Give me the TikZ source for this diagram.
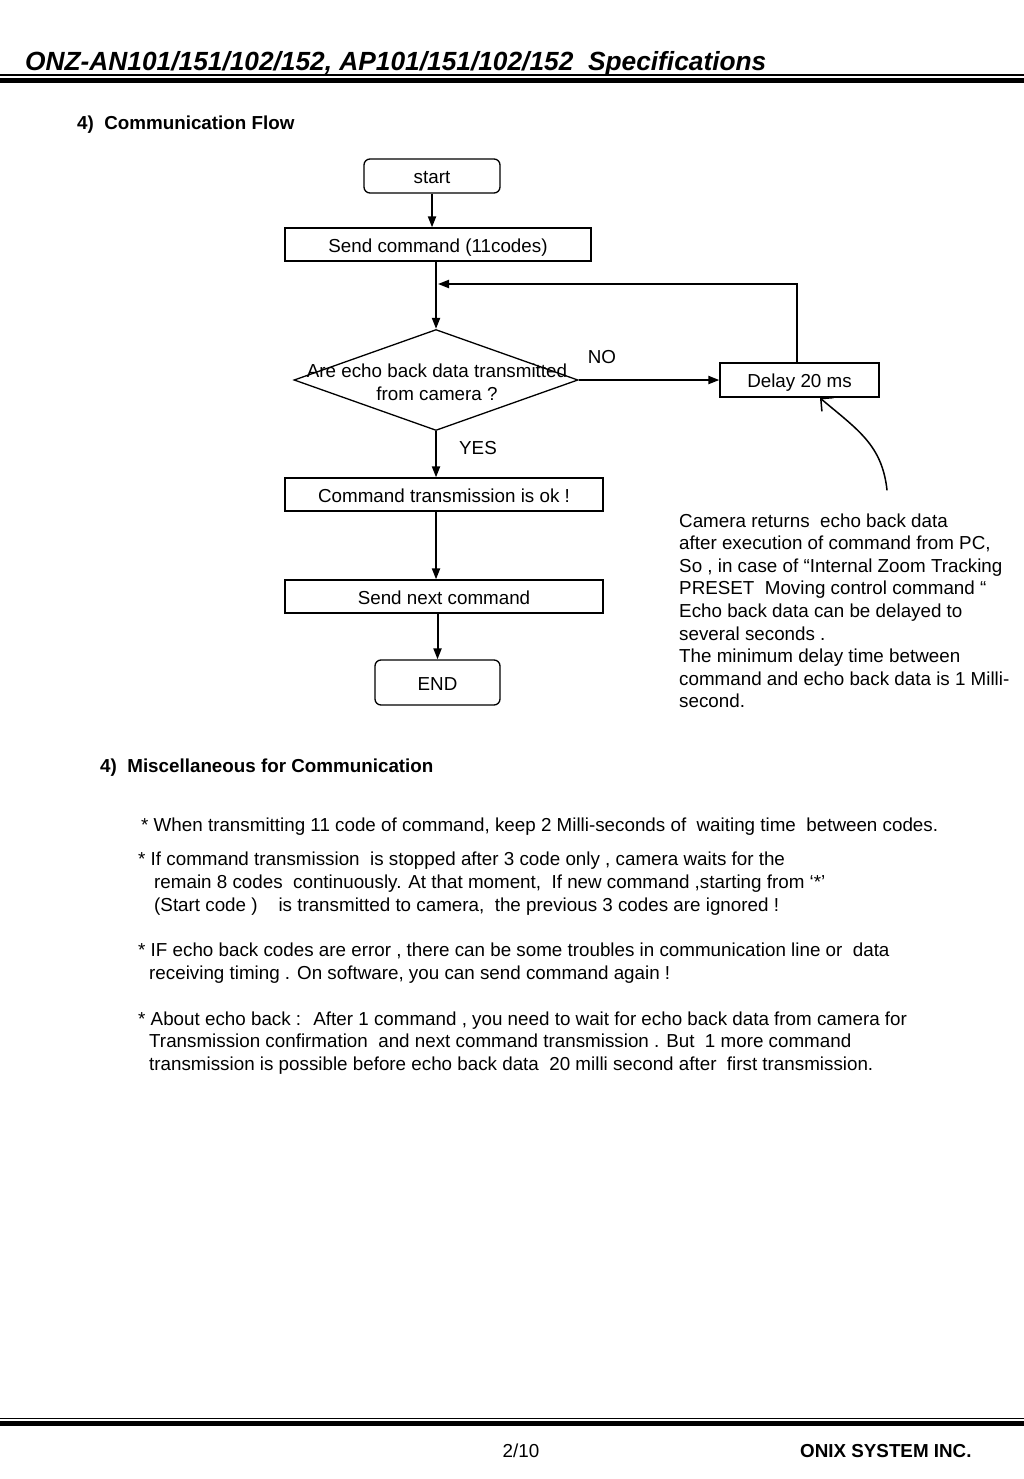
\documentclass[tikz,border=0pt]{standalone}
\usepackage{fontspec}
\setmainfont{Liberation Sans}
\usetikzlibrary{shapes.geometric,arrows.meta}

\tikzset{
  box/.style={draw, line width=1.3pt, inner sep=0pt, text height=15pt, text depth=0pt, font=\fontsize{18.8}{22.6}\selectfont},
  flow/.style={line width=2pt, -{Triangle[length=11pt,width=8pt]}},
  txt/.style={inner sep=0pt, anchor=base west, font=\fontsize{18.8}{22.6}\selectfont},
  bold/.style={txt, font=\fontsize{18.8}{22.6}\selectfont\bfseries},
}

\begin{document}
\begin{tikzpicture}[x=1pt,y=-1pt]

\useasboundingbox (0,0) rectangle (1024,1479);


% header
\node[txt, font=\fontsize{26.3}{30}\selectfont\bfseries\itshape] (title) at (25,70.5) {ONZ-AN101/151/102/152, AP101/151/102/152~ Specifications};
\draw[line width=1.5pt] (0,75) -- (1024,75);
\draw[line width=4.2pt] (0,80.6) -- (1024,80.6);

\node[bold] (flowhead) at (77,130) {4)~ Communication Flow};


% flow chart
\node[box, rounded corners=6pt, minimum width=136pt, minimum height=34pt] (start) at (432,176) {start};
\node[box, minimum width=306pt, minimum height=33pt] (send) at (438,244.5) {Send command (11codes)};

\node[draw, line width=1.3pt, diamond, minimum width=284pt, minimum height=101pt, inner sep=0pt] (ask) at (436,380) {};
\node[align=center, inner sep=0pt, font=\fontsize{18.8}{22.6}\selectfont] (asktext) at (437,382) {Are echo back data transmitted\\from camera ?};

\node[box, minimum width=159pt, minimum height=34pt] (delay) at (799.5,380) {Delay 20 ms};

\node[box, minimum width=318pt, minimum height=33pt] (cmdok) at (444,494.5) {Command transmission is ok !};
\node[box, minimum width=318pt, minimum height=33pt] (sendnext) at (444,596.5) {Send next command};
\node[box, rounded corners=6pt, minimum width=125pt, minimum height=45pt] (finish) at (437.5,682.5) {END};

\node[txt, anchor=center] (no) at (602,357) {NO};
\node[txt, anchor=center] (yes) at (478,448) {YES};


\coordinate (loopjoin) at (436,284);

\draw[flow] (start.south) -- (start.south |- send.north);
\draw[flow] (send.south -| ask.north) -- (ask.north);
\draw[flow] (ask.east) -- (ask.east -| delay.west);
\draw[flow] ([xshift=-3pt]delay.north) |- ([xshift=2pt]loopjoin);
\draw[flow] (ask.south) -- (ask.south |- cmdok.north);
\draw[flow] (cmdok.south -| ask.south) -- (ask.south |- sendnext.north);
\draw[flow] (sendnext.south -| finish.north) -- (finish.north);


% note on the delay
\coordinate (notefoot) at (887,490);
\coordinate (notetip) at (820,398);
\draw[line width=1.5pt, line cap=round, -{Straight Barb[length=9pt,width=18pt,line width=1.5pt]}] (notefoot) .. controls (882,445) and (858,430) .. (notetip);

\foreach \line [count=\i] in {Camera returns~ echo back data,
	{after execution of command from PC,},
	{So , in case of “Internal Zoom Tracking},
	PRESET~ Moving control command “,
	Echo back data can be delayed to,
	several seconds .,
	The minimum delay time between,
	command and echo back data is 1 Milli-,
	second.}
{
	\node[txt] (note\i) at (679, 527 + \i*22.6 - 22.6) {\line};
}


% miscellaneous
\node[bold] (mischead) at (100,772.5) {4)~ Miscellaneous for Communication};

\node[txt] (misc1) at (141,831) {* When transmitting 11 code of command, keep 2 Milli-seconds of~ waiting time~ between codes.};

\node[txt] (misc2) at (138,865) {* If command transmission~ is stopped after 3 code only , camera waits for the};
\node[txt] (misc3) at (154,888) {remain 8 codes~ continuously. At that moment,~ If new command ,starting from ‘*’};
\node[txt] (misc4) at (154,911) {(Start code )~ ~ is transmitted to camera,~ the previous 3 codes are ignored !};

\node[txt] (misc5) at (138,956) {* IF echo back codes are error , there can be some troubles in communication line or~ data};
\node[txt] (misc6) at (149,979) {receiving timing . On software, you can send command again !};

\node[txt] (misc7) at (138,1025) {* About echo back :~ After 1 command , you need to wait for echo back data from camera for};
\node[txt] (misc8) at (149,1047) {Transmission confirmation~ and next command transmission . But~ 1 more command};
\node[txt] (misc9) at (149,1070) {transmission is possible before echo back data~ 20 milli second after~ first transmission.};


% footer
\draw[line width=1.5pt] (0,1418.7) -- (1024,1418.7);
\draw[line width=4.5pt] (0,1423.4) -- (1024,1423.4);

\node[txt, anchor=base] (page) at (521,1457) {2/10};
\node[bold] (company) at (800,1457) {ONIX SYSTEM INC.};

\end{tikzpicture}
\end{document}
